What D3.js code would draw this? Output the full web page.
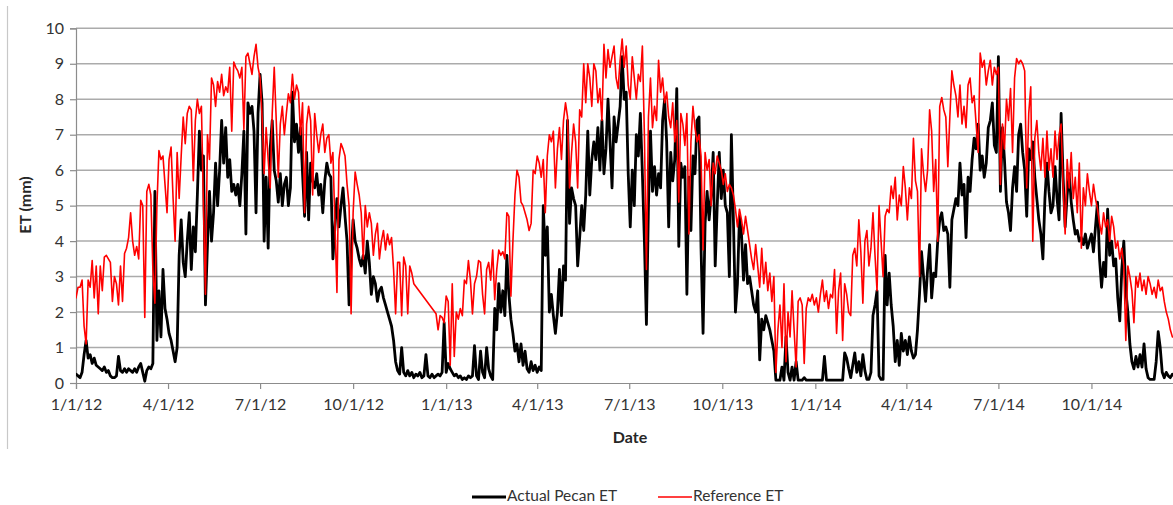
<!DOCTYPE html>
<html>
<head>
<meta charset="utf-8">
<script src="https://cdn.jsdelivr.net/npm/d3@7/dist/d3.min.js"></script>
<style>
  html, body { margin: 0; padding: 0; background: #ffffff; }
  svg { display: block; }
  text { font-family: Lato, "Open Sans", "Liberation Sans", sans-serif; }
</style>
</head>
<body>
<svg id="chart" width="1173" height="505"></svg>
<script>
// Daily ET series, one reading every 2 days starting 1/1/2012
const startDate = "2012-01-01";
const stepDays = 2;

const actualPecanET = [
  0.25,0.2,0.15,0.3,0.8,1.2,0.7,0.8,0.55,0.7,0.5,0.45,0.4,0.35,0.45,
  0.3,0.35,0.2,0.15,0.15,0.2,0.75,0.35,0.3,0.4,0.3,0.4,0.35,0.3,0.4,
  0.3,0.45,0.55,0.3,0.05,0.35,0.45,0.4,0.55,5.4,1.2,2.6,1.3,3.2,2.1,
  1.8,1.4,1.2,0.9,0.6,1.0,3.6,4.6,3.4,3.0,4.0,4.8,3.2,4.4,3.7,
  5.3,7.1,6.0,6.4,2.2,3.9,5.4,4.0,4.8,6.2,5.0,6.0,7.4,6.2,7.2,
  5.8,6.3,5.4,5.6,5.3,5.6,5.0,5.9,7.1,4.2,7.9,7.6,7.8,7.1,4.8,
  7.6,8.7,7.9,4.0,5.8,3.8,6.6,7.4,6.0,5.7,5.1,5.9,5.0,5.6,5.8,
  5.0,5.5,8.2,6.8,7.3,6.5,7.2,5.9,4.7,6.5,4.6,6.2,5.7,5.5,5.9,
  5.3,5.6,4.8,5.7,6.2,5.9,5.8,3.5,4.4,5.2,4.4,5.0,5.5,4.7,4.0,
  2.2,3.6,4.6,4.0,3.8,3.5,3.3,3.6,3.1,4.0,3.4,2.5,3.0,2.8,2.3,
  2.6,2.7,2.4,2.2,2.0,1.8,1.6,1.2,0.6,0.35,0.25,1.0,0.3,0.2,0.35,
  0.2,0.3,0.15,0.25,0.2,0.3,0.15,0.2,0.8,0.2,0.15,0.25,0.15,0.2,0.25,
  0.2,0.3,1.7,0.3,0.55,0.4,0.3,0.2,0.25,0.15,0.2,0.1,0.15,0.1,0.2,
  0.15,0.2,1.05,0.2,0.1,0.9,0.3,0.15,1.0,0.4,0.2,0.1,2.1,1.5,2.8,
  2.0,2.6,1.9,3.6,2.5,1.8,1.4,0.9,1.1,0.6,1.1,0.5,0.9,0.4,0.3,
  0.6,0.35,0.5,0.3,0.45,0.35,5.0,3.6,4.4,2.0,2.5,1.9,1.4,2.0,3.2,
  1.9,3.3,2.9,7.4,4.5,5.5,5.2,5.0,3.3,4.1,5.0,4.3,5.3,7.1,5.3,
  6.3,6.8,6.3,7.2,6.0,7.4,5.9,6.6,8.0,6.8,5.5,7.5,6.8,7.3,7.8,
  9.2,8.0,8.2,5.9,4.4,6.0,5.0,7.0,6.4,7.6,5.9,4.0,1.65,5.0,7.1,
  5.4,6.1,5.3,5.9,5.5,7.4,8.0,6.8,4.4,6.5,5.7,6.3,8.3,3.85,6.2,
  5.8,6.1,2.5,5.8,4.3,6.4,5.9,7.4,7.5,3.8,1.4,4.5,5.4,4.6,5.3,
  6.5,3.3,5.0,6.5,5.2,6.0,5.0,4.8,3.0,7.0,4.6,2.0,2.8,4.7,4.2,
  2.9,3.9,2.8,3.0,2.6,2.2,2.0,2.6,0.65,1.8,1.5,1.9,1.7,1.5,1.2,
  0.9,0.08,0.08,0.08,0.45,0.08,1.3,0.3,0.08,0.45,0.08,0.6,0.08,0.08,0.08,
  0.15,0.08,0.08,0.08,0.08,0.08,0.08,0.08,0.08,0.08,0.75,0.08,0.08,0.08,0.08,
  0.08,0.08,0.08,0.08,0.08,0.85,0.7,0.4,0.15,0.5,0.85,0.3,0.6,0.2,0.8,
  0.35,0.1,0.1,0.3,1.9,2.2,2.6,0.2,0.1,0.1,3.6,2.2,3.1,2.2,1.6,
  0.6,1.2,0.5,1.4,0.9,1.2,0.8,1.3,0.9,0.7,0.8,1.5,2.5,3.7,3.0,
  2.3,3.2,3.9,2.4,3.1,3.0,4.0,4.6,4.8,4.3,4.4,4.2,2.7,4.6,4.9,
  5.2,5.0,6.2,5.3,5.6,4.1,5.8,5.4,6.3,6.9,6.6,7.3,6.0,6.4,5.8,
  6.2,7.2,7.4,7.9,6.7,6.5,9.2,5.4,7.2,6.3,5.1,4.8,4.3,5.5,6.1,
  5.4,7.0,7.3,6.5,6.0,4.7,6.6,6.3,6.8,5.8,5.2,4.6,4.2,3.5,5.2,
  6.2,5.4,4.8,5.0,6.1,5.2,4.6,7.6,5.8,4.4,5.3,5.9,5.1,4.6,4.2,
  4.3,4.0,4.1,3.9,4.2,3.8,4.0,4.2,3.7,4.4,5.1,3.5,2.7,3.4,3.0,
  4.9,3.6,4.0,3.3,3.5,2.4,1.75,3.2,4.0,2.6,2.0,1.1,0.6,0.4,0.75,
  0.45,0.8,0.45,1.1,0.4,0.15,0.1,0.1,0.1,0.6,1.45,1.0,0.3,0.15,0.3,
  0.2,0.15,0.25,0.2,0.15,0.2,0.15,0.2
];

// null = no reading (the line is joined straight across the gap)
const referenceET = [
  2.4,2.7,2.7,2.9,1.6,1.1,2.9,2.7,3.45,2.4,3.3,1.95,3.3,2.6,3.55,
  3.6,3.5,3.4,2.3,3.0,2.8,2.2,3.3,2.3,3.65,3.8,4.1,4.8,4.0,3.6,
  3.85,3.5,5.15,5.0,1.85,5.4,5.6,5.3,3.2,2.25,5.0,6.55,6.3,6.4,5.6,
  4.8,6.3,6.65,5.2,4.0,6.5,5.2,6.4,7.5,6.75,7.6,7.8,7.7,5.7,7.4,
  8.0,7.6,7.8,5.0,2.5,7.0,6.3,8.6,8.4,7.8,8.5,8.2,8.7,8.1,8.35,
  8.2,8.9,7.1,9.05,8.9,8.8,8.6,8.9,7.15,9.2,9.3,9.0,8.7,9.2,9.55,
  8.9,8.6,7.5,5.9,7.2,6.3,5.5,7.6,8.9,7.4,5.8,7.3,7.8,7.0,7.6,
  8.15,7.9,8.7,8.0,8.4,8.2,7.0,7.9,4.8,7.3,7.8,7.4,5.3,7.6,7.0,
  6.5,7.0,7.3,6.5,6.9,7.0,6.2,6.5,4.5,2.55,6.3,6.75,6.6,6.4,5.6,
  5.0,1.95,4.8,5.95,5.6,5.3,4.8,3.5,5.0,4.4,4.8,4.5,3.6,4.2,4.5,
  3.5,4.0,4.3,3.75,4.2,3.9,4.1,3.2,1.95,3.4,3.4,1.9,3.55,3.3,1.95,
  3.3,3.1,2.8,null,null,null,null,null,null,null,null,null,null,1.95,1.5,
  1.9,1.85,1.7,2.45,2.3,0.5,2.8,0.75,2.0,1.8,2.1,1.9,2.9,2.8,3.45,
  2.9,1.95,2.8,3.0,3.45,3.4,2.5,1.95,3.2,3.4,2.9,3.75,2.35,3.2,3.75,
  3.6,3.7,3.5,4.8,4.7,2.45,4.0,5.3,6.0,5.8,5.1,5.0,4.8,4.6,4.3,
  4.5,6.0,5.9,6.4,6.2,5.8,6.3,4.8,6.4,7.0,6.8,7.1,5.5,6.6,7.2,
  6.3,7.4,7.9,7.5,5.5,6.5,7.3,6.8,5.5,7.7,7.5,9.0,7.9,9.0,8.6,
  7.8,9.0,8.8,7.9,8.3,7.4,9.55,8.6,9.4,8.9,9.2,9.5,8.6,8.3,9.1,
  9.7,8.9,9.5,8.4,8.0,9.2,8.6,8.0,8.7,8.5,9.5,7.0,3.2,7.5,8.6,
  7.2,7.8,7.4,9.1,8.2,8.6,7.9,8.2,7.5,7.2,7.9,6.8,7.4,5.1,7.6,
  7.3,6.7,7.6,4.2,6.8,7.8,7.2,6.8,7.0,6.4,3.75,6.5,6.0,6.3,5.0,
  6.2,5.9,6.4,6.2,6.0,5.6,5.9,5.4,5.6,5.5,5.3,4.9,4.4,4.9,4.6,
  4.2,4.7,4.3,3.9,3.5,3.2,3.9,3.3,2.7,3.8,2.8,3.4,2.6,3.1,2.3,
  3.0,0.3,1.5,2.2,1.0,2.8,0.6,2.0,1.3,2.6,1.5,0.45,2.3,2.4,2.2,
  0.55,2.1,2.4,2.3,2.5,2.2,2.4,2.0,2.5,2.9,2.3,2.6,2.1,2.5,2.4,
  3.2,1.4,2.6,3.1,1.2,2.8,2.5,2.0,1.9,3.6,3.8,3.3,4.6,3.7,2.25,
  4.0,4.3,3.3,3.8,4.8,3.6,2.6,5.0,4.0,3.0,4.7,4.9,4.8,5.55,5.2,
  5.8,4.6,5.3,5.0,6.1,5.5,4.6,5.5,5.2,6.9,5.7,5.4,3.0,6.6,5.9,
  5.4,6.0,7.7,7.1,5.4,6.3,4.0,7.8,8.05,7.7,7.5,6.1,7.5,8.8,8.4,
  8.1,7.5,8.4,7.3,7.8,7.2,8.4,8.6,7.9,8.1,7.3,6.5,9.3,8.9,9.1,
  8.4,8.8,9.1,8.4,8.9,8.7,8.9,5.6,7.3,6.6,8.0,7.4,8.3,6.5,8.6,
  9.15,9.0,9.1,9.0,8.8,5.5,7.6,8.35,4.0,6.9,7.4,6.5,6.0,6.9,5.8,
  7.1,6.0,6.6,5.8,7.1,6.3,7.0,7.3,5.5,4.2,6.3,5.5,6.5,5.2,5.8,
  4.8,6.2,3.8,5.5,5.0,5.9,5.4,5.0,5.6,5.2,4.9,4.5,4.2,4.8,4.4,
  4.6,4.0,4.7,4.4,3.8,4.0,3.5,3.8,3.3,1.2,3.3,3.0,2.6,1.7,3.0,
  2.7,3.1,2.6,2.9,2.5,3.0,2.8,2.5,2.7,2.4,2.9,2.6,2.7,2.3,2.0,
  1.8,1.5,1.3,1.3,1.3,1.3,1.3,1.3
];

const yTicks = [0,1,2,3,4,5,6,7,8,9,10];
const xTickDates = ["2012-01-01","2012-04-01","2012-07-01","2012-10-01",
                    "2013-01-01","2013-04-01","2013-07-01","2013-10-01",
                    "2014-01-01","2014-04-01","2014-07-01","2014-10-01"];
const seriesNames = ["Actual Pecan ET", "Reference ET"];
const seriesColors = ["#000000", "#ff0000"];
const yTitle = "ET (mm)";
const xTitle = "Date";

const svg = d3.select("#chart");
const W = 1173, H = 505;

const plotLeft = 76, plotBottom = 383, plotTop = 28.3;
const pxPerDay = 1.0114;
const t0 = d3.utcParse("%Y-%m-%d")(startDate);
const tEnd = d3.utcParse("%Y-%m-%d")("2015-01-01");
const totalDays = (tEnd - t0) / 864e5;

const x = d3.scaleUtc().domain([t0, tEnd]).range([plotLeft, plotLeft + totalDays * pxPerDay]);
const y = d3.scaleLinear().domain([0, 10]).range([plotBottom, plotTop]);

function toPoints(arr) {
  return arr.map((v, i) => ({ date: d3.utcDay.offset(t0, i * stepDays), v }))
            .filter(p => p.v !== null);
}

// left frame edge of the chart area
svg.append("line")
  .attr("x1", 7.5).attr("x2", 7.5).attr("y1", 6).attr("y2", 449)
  .attr("stroke", "#c8c8c8").attr("stroke-width", 1.2);

// horizontal gridlines
svg.append("g")
  .selectAll("line")
  .data(yTicks.filter(d => d > 0))
  .join("line")
  .attr("x1", plotLeft).attr("x2", W + 20)
  .attr("y1", d => y(d)).attr("y2", d => y(d))
  .attr("stroke", "#ababab").attr("stroke-width", 1.5);

// y axis
const yAxis = d3.axisLeft(y).tickValues(yTicks).tickSize(6).tickPadding(6).tickFormat(d3.format("d"));
const gy = svg.append("g").attr("transform", `translate(${plotLeft},0)`).call(yAxis);
gy.select(".domain").attr("stroke", "#8c8c8c").attr("stroke-width", 1.2);
gy.selectAll(".tick line").attr("stroke", "#8c8c8c").attr("stroke-width", 1.2);
gy.selectAll(".tick text").attr("fill", "#333333").attr("font-size", 16)
  .attr("font-family", "Lato, 'Open Sans', sans-serif");

// x axis
const fmt = d => `${d.getUTCMonth() + 1}/${d.getUTCDate()}/${String(d.getUTCFullYear()).slice(2)}`;
const xAxis = d3.axisBottom(x)
  .tickValues(xTickDates.map(s => d3.utcParse("%Y-%m-%d")(s)))
  .tickSize(6).tickPadding(10).tickFormat(fmt);
const gx = svg.append("g").attr("transform", `translate(0,${plotBottom})`).call(xAxis);
gx.select(".domain").attr("stroke", "#8c8c8c").attr("stroke-width", 1.2);
gx.selectAll(".tick line").attr("stroke", "#8c8c8c").attr("stroke-width", 1.2);
gx.selectAll(".tick text").attr("fill", "#333333").attr("font-size", 16)
  .attr("font-family", "Lato, 'Open Sans', sans-serif");

// series lines
svg.append("clipPath").attr("id", "plotClip")
  .append("rect").attr("x", plotLeft).attr("y", 0).attr("width", W - plotLeft).attr("height", plotBottom + 2);

const line = d3.line().x(d => x(d.date)).y(d => y(d.v)).curve(d3.curveLinear);

const series = [
  { name: seriesNames[0], color: seriesColors[0], width: 2.8, pts: toPoints(actualPecanET) },
  { name: seriesNames[1], color: seriesColors[1], width: 1.6, pts: toPoints(referenceET) }
];

svg.append("g").attr("clip-path", "url(#plotClip)")
  .selectAll("path")
  .data(series)
  .join("path")
  .attr("d", d => line(d.pts))
  .attr("fill", "none")
  .attr("stroke", d => d.color)
  .attr("stroke-width", d => d.width)
  .attr("stroke-linejoin", "round")
  .attr("stroke-linecap", "round");

// axis titles
svg.append("text")
  .attr("transform", "translate(31,205) rotate(-90)")
  .attr("text-anchor", "middle")
  .attr("font-size", 16).attr("font-weight", "bold").attr("fill", "#262626")
  .text(yTitle);

svg.append("text")
  .attr("x", 630).attr("y", 443)
  .attr("text-anchor", "middle")
  .attr("font-size", 16).attr("font-weight", "bold").attr("fill", "#262626")
  .text(xTitle);

// legend
const legendItems = [
  { name: seriesNames[0], color: seriesColors[0], width: 3, x0: 472 },
  { name: seriesNames[1], color: seriesColors[1], width: 1.5, x0: 658 }
];
const lg = svg.append("g");
lg.selectAll("line").data(legendItems).join("line")
  .attr("x1", d => d.x0).attr("x2", d => d.x0 + 34)
  .attr("y1", 497).attr("y2", 497)
  .attr("stroke", d => d.color).attr("stroke-width", d => d.width);
lg.selectAll("text").data(legendItems).join("text")
  .attr("x", d => d.x0 + 35).attr("y", 501)
  .attr("font-size", 15.5).attr("fill", "#333333")
  .text(d => d.name);
</script>
</body>
</html>
